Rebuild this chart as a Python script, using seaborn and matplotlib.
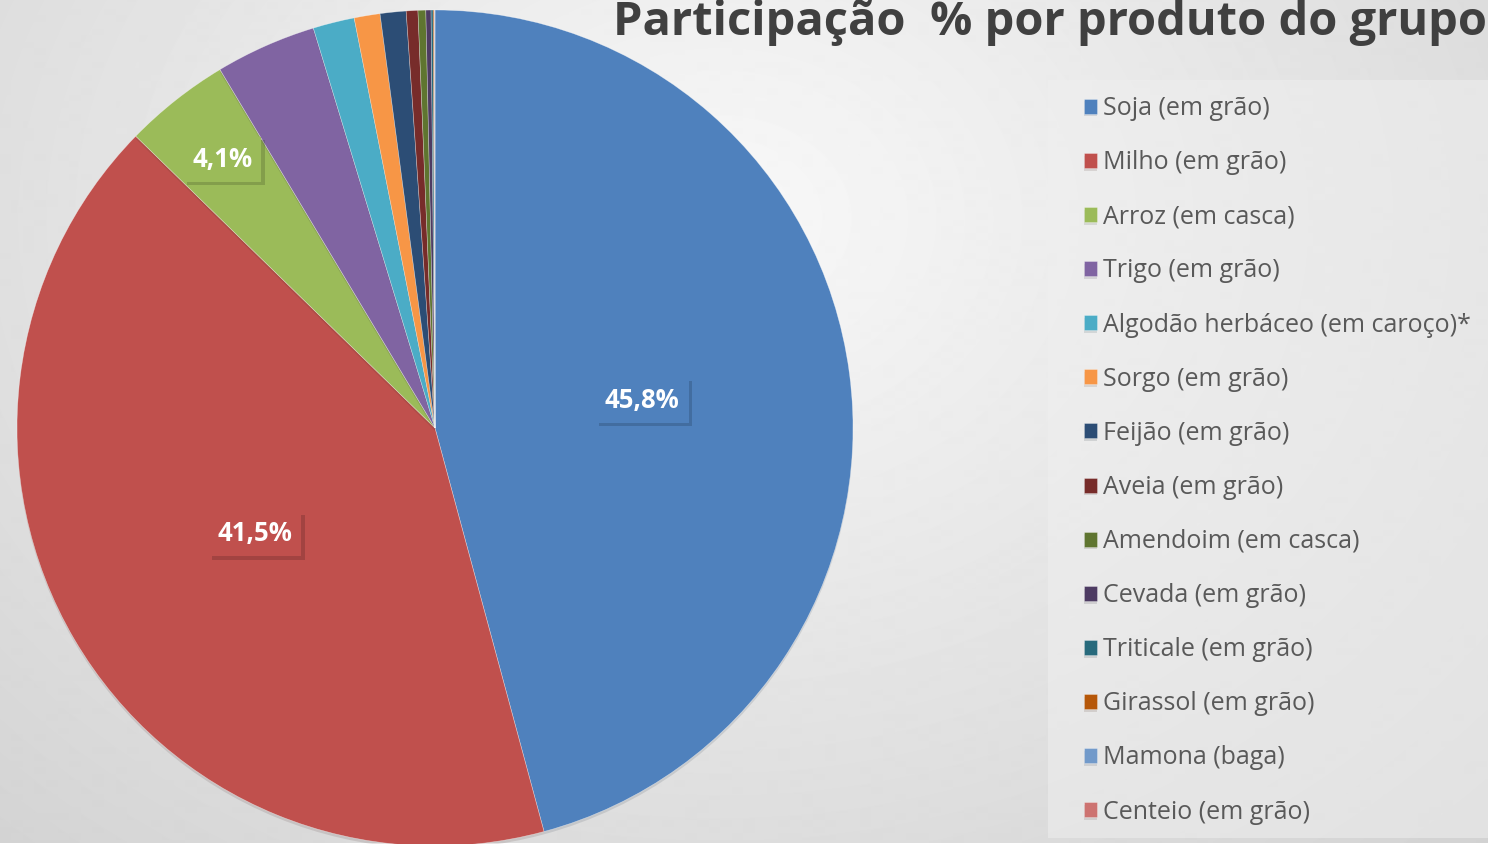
import numpy as np
import matplotlib
matplotlib.use('Agg')
import matplotlib.pyplot as plt
import matplotlib.patheffects as pe
from matplotlib.patches import Rectangle
import seaborn as sns

# ==========================================
# dados (% da produção)
# ==========================================
produtos = ['Soja (em grão)', 'Milho (em grão)', 'Arroz (em casca)', 'Trigo (em grão)',
            'Algodão herbáceo (em caroço)*', 'Sorgo (em grão)', 'Feijão (em grão)',
            'Aveia (em grão)', 'Amendoim (em casca)', 'Cevada (em grão)',
            'Triticale (em grão)', 'Girassol (em grão)', 'Mamona (baga)', 'Centeio (em grão)']
participacao = [45.8, 41.5, 4.1, 3.9, 1.6, 1.0, 1.0, 0.45, 0.3, 0.2, 0.08, 0.04, 0.02, 0.01]
rotulos_visiveis = ['45,8%', '41,5%', '4,1%']

cores = ['#4F81BD', '#C0504D', '#9BBB59', '#8064A2', '#4BACC6', '#F79646', '#2C4D75',
         '#772C2A', '#5F7530', '#4D3B62', '#276A7C', '#B65708', '#729ACA', '#CD7371']

sns.set_theme(style='white')
plt.rcParams['font.family'] = ['Open Sans', 'DejaVu Sans']

W, H = 1488, 844
fig = plt.figure(figsize=(W / 100, H / 100), dpi=100)

# fundo cinza com gradiente radial (estilo slide)
bg = fig.add_axes([0, 0, 1, 1])
yy, xx = np.mgrid[0:H, 0:W]
d = np.sqrt(((xx - 720) / 950.0) ** 2 + ((yy - 220) / 750.0) ** 2)
bg.imshow(np.clip(0.975 - 0.13 * d, 0, 1), cmap='gray', vmin=0, vmax=1,
          aspect='auto', interpolation='bilinear')
bg.set_xlim(0, W)
bg.set_ylim(H, 0)
bg.axis('off')
# painel da legenda
bg.add_patch(Rectangle((1048, 80), 460, 758, facecolor='#efefef', alpha=0.55,
                       edgecolor='none'))

# eixo da pizza: centro (435, 428) px, raio 418 px
cx, cy, r = 435, 428, 418
ax = fig.add_axes([(cx - r) / W, (H - cy - r) / H, 2 * r / W, 2 * r / H])
wedges, _ = ax.pie(participacao, colors=cores, startangle=90, counterclock=False,
                   radius=1.0, wedgeprops=dict(linewidth=0.4, edgecolor=(1, 1, 1, 0.5)))
for w in wedges:
    w.set_path_effects([pe.SimplePatchShadow(offset=(0, -2), alpha=0.12), pe.Normal()])
ax.set_xlim(-1, 1)
ax.set_ylim(-1, 1)
ax.set_aspect('equal')
ax.axis('off')

# rótulos de dados (só as três maiores fatias)
dist = [0.5, 0.5, 0.82]
for i, txt in enumerate(rotulos_visiveis):
    w = wedges[i]
    ang = np.deg2rad((w.theta1 + w.theta2) / 2)
    t = ax.text(dist[i] * np.cos(ang), dist[i] * np.sin(ang), txt, ha='center', va='center',
                color='white', fontsize=18.5, fontweight='bold',
                bbox=dict(boxstyle='square,pad=0.35', facecolor=cores[i], edgecolor='none'))
    t.get_bbox_patch().set_path_effects([pe.SimplePatchShadow(offset=(2.5, -2.5), alpha=0.22),
                                         pe.Normal()])

# título (encostado na borda direita, como no original)
fig.text(613 / W, 1 - 35 / H, 'Participação  % por produto do grupo', ha='left',
         va='baseline', fontsize=33.8, fontweight='bold', color='#404040')

# legenda
leg = fig.legend(wedges, produtos, loc='upper left', bbox_to_anchor=(1084 / W, 1 - 96 / H),
                 fontsize=18, frameon=False, handlelength=0.5, handleheight=0.55,
                 handletextpad=0.25, labelspacing=1.165, borderpad=0, borderaxespad=0)
for t in leg.get_texts():
    t.set_color('#595959')

fig.savefig('out.png', dpi=100)
